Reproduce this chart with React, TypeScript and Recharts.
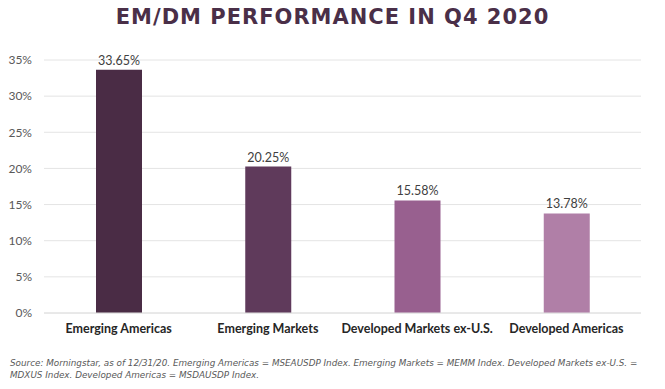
import { BarChart, Bar, XAxis, YAxis, CartesianGrid, Cell, LabelList } from 'recharts';

const categories = ['Emerging Americas', 'Emerging Markets', 'Developed Markets ex-U.S.', 'Developed Americas'];
const returns = [33.65, 20.25, 15.58, 13.78];
const barColors = ['#4a2c45', '#5f3a5b', '#98608f', '#b07fa7'];
const yTicks = [0, 5, 10, 15, 20, 25, 30, 35];

const data = categories.map((name, i) => ({ name, value: returns[i] }));

export default function App() {
  return (
    <div style={{ position: 'absolute', left: 0, top: 0, width: 665, height: 389, background: '#fff', fontFamily: 'Lato, sans-serif' }}>
      {/* Titre */}
      <div
        style={{
          position: 'absolute',
          top: 5,
          left: 0,
          width: 665,
          textAlign: 'center',
          fontFamily: '"DejaVu Sans", sans-serif',
          fontSize: 21,
          fontWeight: 'bold',
          letterSpacing: 1,
          color: '#4a2f48',
        }}
      >
        EM/DM PERFORMANCE IN Q4 2020
      </div>

      <BarChart
        width={665}
        height={389}
        data={data}
        margin={{ top: 60, right: 24, bottom: 46, left: 0 }}
      >
        <CartesianGrid vertical={false} stroke="#e4e4e4" />
        <XAxis
          dataKey="name"
          axisLine={{ stroke: '#e0e0e0' }}
          tickLine={false}
          tickMargin={5}
          height={30}
          interval={0}
          tick={{ fill: '#262626', fontSize: 12.5, fontWeight: 'bold' }}
        />
        <YAxis
          width={44}
          domain={[0, 35]}
          ticks={yTicks}
          axisLine={false}
          tickLine={false}
          tickMargin={6}
          tickFormatter={(v) => `${v}%`}
          tick={{ fill: '#595959', fontSize: 12 }}
        />
        <Bar dataKey="value" barSize={46} isAnimationActive={false}>
          {data.map((d, i) => (
            <Cell key={d.name} fill={barColors[i]} />
          ))}
          <LabelList
            dataKey="value"
            position="top"
            offset={5}
            formatter={(v: any) => `${Number(v).toFixed(2)}%`}
            style={{ fill: '#404040', fontSize: 12.5 }}
          />
        </Bar>
      </BarChart>

      {/* Source */}
      <div
        style={{
          position: 'absolute',
          top: 357,
          left: 10,
          width: 650,
          fontSize: 8.8,
          lineHeight: '12px',
          fontStyle: 'italic',
          color: '#595959',
          fontFamily: '"DejaVu Sans", sans-serif',
          whiteSpace: 'nowrap',
        }}
      >
        Source: Morningstar, as of 12/31/20. Emerging Americas = MSEAUSDP Index. Emerging Markets = MEMM Index. Developed Markets ex-U.S. =
        <br />
        MDXUS Index. Developed Americas = MSDAUSDP Index.
      </div>
    </div>
  );
}
